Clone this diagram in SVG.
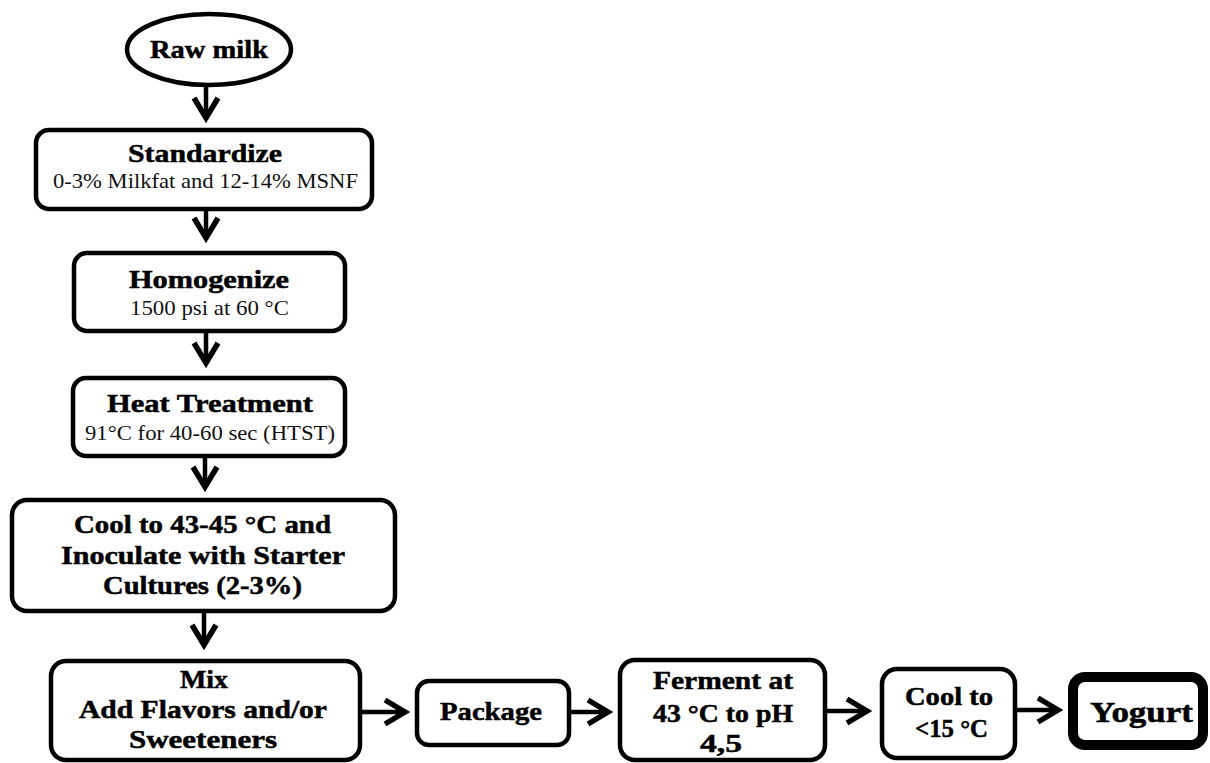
<svg xmlns="http://www.w3.org/2000/svg" width="1210" height="763" viewBox="0 0 1210 763">
<style>
.box{fill:#fff;stroke:#000;stroke-width:4.5}
.thick{fill:#fff;stroke:#000;stroke-width:10}
.t{font-family:"Liberation Serif","Times New Roman",serif;font-weight:bold;font-size:26px;fill:#000;stroke:#000;stroke-width:0.5;text-anchor:middle}
.s{font-family:"Liberation Serif","Times New Roman",serif;font-weight:normal;font-size:22px;fill:#111;text-anchor:middle}
.c{fill:none;stroke:#000;stroke-width:4.5;marker-end:url(#chev)}
</style>
<defs>
<marker id="chev" markerUnits="userSpaceOnUse" viewBox="-26 -16 32 32" markerWidth="32" markerHeight="32" refX="0" refY="0" orient="auto" overflow="visible">
<path d="M-20,-12 L0,0 L-20,12" fill="none" stroke="#000" stroke-width="5.5" stroke-linejoin="miter"/>
</marker>
</defs>
<rect width="1210" height="763" fill="#fff"/>
<g id="connectors">
<path class="c" d="M206,87 V118"/>
<path class="c" d="M206,211 V238"/>
<path class="c" d="M206,333 V363"/>
<path class="c" d="M205,458 V487"/>
<path class="c" d="M204,613 V645"/>
<path class="c" d="M362,712 H405"/>
<path class="c" d="M571,712 H608"/>
<path class="c" d="M827,711 H867"/>
<path class="c" d="M1017,710 H1058"/>
</g>
<g id="raw-milk">
<ellipse class="box" cx="209" cy="49.5" rx="82" ry="35.5"/>
<text class="t" x="209" y="58" textLength="118" lengthAdjust="spacingAndGlyphs">Raw milk</text>
</g>
<g id="standardize">
<rect class="box" x="36" y="130" width="336" height="79" rx="13"/>
<text class="t" x="205" y="162" textLength="154" lengthAdjust="spacingAndGlyphs">Standardize</text>
<text class="s" x="205.5" y="188" textLength="305" lengthAdjust="spacingAndGlyphs">0-3% Milkfat and 12-14% MSNF</text>
</g>
<g id="homogenize">
<rect class="box" x="74" y="253" width="271" height="78" rx="13"/>
<text class="t" x="209" y="288" textLength="160" lengthAdjust="spacingAndGlyphs">Homogenize</text>
<text class="s" x="209.5" y="315" textLength="159" lengthAdjust="spacingAndGlyphs">1500 psi at 60 °C</text>
</g>
<g id="heat-treatment">
<rect class="box" x="73" y="378" width="272" height="78" rx="13"/>
<text class="t" x="210" y="412" textLength="206" lengthAdjust="spacingAndGlyphs">Heat Treatment</text>
<text class="s" x="210" y="440" textLength="250" lengthAdjust="spacingAndGlyphs">91°C for 40-60 sec (HTST)</text>
</g>
<g id="cool-inoculate">
<rect class="box" x="12" y="500" width="383" height="111" rx="15"/>
<text class="t" x="202.5" y="533" textLength="257" lengthAdjust="spacingAndGlyphs">Cool to 43-45 °C and</text>
<text class="t" x="203" y="564" textLength="284" lengthAdjust="spacingAndGlyphs">Inoculate with Starter</text>
<text class="t" x="202.5" y="594" textLength="199" lengthAdjust="spacingAndGlyphs">Cultures (2-3%)</text>
</g>
<g id="mix">
<rect class="box" x="51" y="661" width="309" height="99" rx="15"/>
<text class="t" x="204" y="688" textLength="48" lengthAdjust="spacingAndGlyphs">Mix</text>
<text class="t" x="203" y="718" textLength="248" lengthAdjust="spacingAndGlyphs">Add Flavors and/or</text>
<text class="t" x="203" y="748" textLength="148" lengthAdjust="spacingAndGlyphs">Sweeteners</text>
</g>
<g id="package">
<rect class="box" x="417" y="681" width="152" height="64" rx="12"/>
<text class="t" x="491" y="720" textLength="102" lengthAdjust="spacingAndGlyphs">Package</text>
</g>
<g id="ferment">
<rect class="box" x="620" y="660" width="205" height="100" rx="15"/>
<text class="t" x="723" y="689" textLength="140" lengthAdjust="spacingAndGlyphs">Ferment at</text>
<text class="t" x="723" y="722" textLength="140" lengthAdjust="spacingAndGlyphs">43 °C to pH</text>
<text class="t" x="721" y="752" textLength="42" lengthAdjust="spacingAndGlyphs">4,5</text>
</g>
<g id="cool-to">
<rect class="box" x="882" y="669" width="133" height="89" rx="15"/>
<text class="t" x="949" y="705" textLength="88" lengthAdjust="spacingAndGlyphs">Cool to</text>
<text class="t" x="951.5" y="737" textLength="73" lengthAdjust="spacingAndGlyphs">&lt;15 °C</text>
</g>
<g id="yogurt">
<rect class="thick" x="1073" y="677" width="130" height="68" rx="12"/>
<text class="t" x="1141.5" y="722" style="font-size:29px" textLength="103" lengthAdjust="spacingAndGlyphs">Yogurt</text>
</g>
</svg>
